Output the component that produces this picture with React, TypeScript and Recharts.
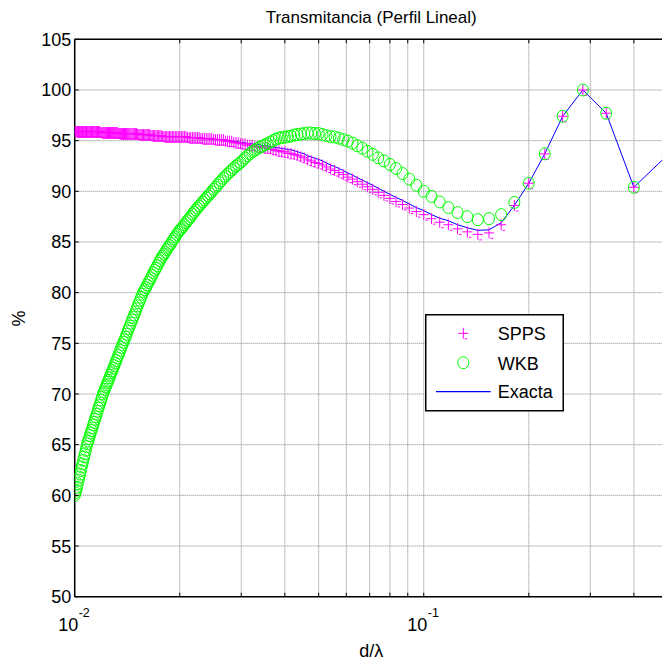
import React from 'react';
import { ComposedChart, Line, XAxis, YAxis, CartesianGrid, ReferenceLine, Legend } from 'recharts';

// λ/d of every sample (d/λ = 1 / value)
const LAMBDA_OVER_D = [
  100, 99.5, 99, 98.5, 98, 97.5, 97, 96.5, 96, 95.5,
  95, 94.5, 94, 93.5, 93, 92.5, 92, 91.5, 91, 90.5,
  90, 89.5, 89, 88.5, 88, 87.5, 87, 86.5, 86, 85.5,
  85, 84.5, 84, 83.5, 83, 82.5, 82, 81.5, 81, 80.5,
  80, 79.5, 79, 78.5, 78, 77.5, 77, 76.5, 76, 75.5,
  75, 74.5, 74, 73.5, 73, 72.5, 72, 71.5, 71, 70.5,
  70, 69.5, 69, 68.5, 68, 67.5, 67, 66.5, 66, 65.5,
  65, 64.5, 64, 63.5, 63, 62.5, 62, 61.5, 61, 60.5,
  60, 59.5, 59, 58.5, 58, 57.5, 57, 56.5, 56, 55.5,
  55, 54.5, 54, 53.5, 53, 52.5, 52, 51.5, 51, 50.5,
  50, 49.5, 49, 48.5, 48, 47.5, 47, 46.5, 46, 45.5,
  45, 44.5, 44, 43.5, 43, 42.5, 42, 41.5, 41, 40.5,
  40, 39.5, 39, 38.5, 38, 37.5, 37, 36.5, 36, 35.5,
  35, 34.5, 34, 33.5, 33, 32.5, 32, 31.5, 31, 30.5,
  30, 29.5, 29, 28.5, 28, 27.5, 27, 26.5, 26, 25.5,
  25, 24.5, 24, 23.5, 23, 22.5, 22,
  21.5, 21, 20.5, 20, 19.5, 19, 18.5, 18, 17.5, 17,
  16.5, 16, 15.5, 15, 14.5, 14, 13.5, 13, 12.5, 12,
  11.5, 11, 10.5, 10, 9.5, 9, 8.5, 8, 7.5, 7,
  6.5, 6, 5.5,
  5, 4.5, 4, 3.5, 3, 2.5, 2,
];

const EXACTA = [
  95.9, 95.9, 95.9, 95.9, 95.9, 95.9, 95.9, 95.9, 95.9, 95.9,
  95.9, 95.9, 95.9, 95.9, 95.9, 95.9, 95.9, 95.9, 95.9, 95.9,
  95.9, 95.9, 95.9, 95.9, 95.9, 95.9, 95.9, 95.9, 95.9, 95.9,
  95.9, 95.8, 95.8, 95.8, 95.8, 95.8, 95.8, 95.8, 95.8, 95.8,
  95.8, 95.8, 95.8, 95.8, 95.8, 95.8, 95.8, 95.8, 95.8, 95.8,
  95.7, 95.7, 95.7, 95.7, 95.7, 95.7, 95.7, 95.7, 95.7, 95.7,
  95.7, 95.7, 95.7, 95.7, 95.7, 95.7, 95.7, 95.7, 95.6, 95.6,
  95.6, 95.6, 95.6, 95.6, 95.6, 95.6, 95.6, 95.6, 95.6, 95.5,
  95.5, 95.5, 95.5, 95.5, 95.5, 95.5, 95.5, 95.5, 95.4, 95.4,
  95.4, 95.4, 95.4, 95.4, 95.4, 95.4, 95.4, 95.4, 95.4, 95.4,
  95.4, 95.4, 95.4, 95.4, 95.4, 95.3, 95.3, 95.3, 95.3, 95.3,
  95.3, 95.3, 95.3, 95.2, 95.2, 95.2, 95.2, 95.2, 95.2, 95.2,
  95.1, 95.1, 95.1, 95.1, 95.1, 95.1, 95.0, 95.0, 95.0, 95.0,
  94.9, 94.9, 94.9, 94.8, 94.8, 94.8, 94.7, 94.7, 94.7, 94.6,
  94.6, 94.6, 94.5, 94.5, 94.5, 94.4, 94.4, 94.3, 94.3, 94.2,
  94.2, 94.1, 94.1, 94.0, 93.9, 93.8, 93.7,
  93.5, 93.4, 93.25, 93.15, 93.0, 92.8, 92.6, 92.45, 92.25, 92.05,
  91.8, 91.6, 91.35, 91.1, 90.85, 90.6, 90.3, 90.0, 89.7, 89.4,
  89.1, 88.75, 88.4, 88.1, 87.7, 87.35, 87.1, 86.7, 86.4, 86.15,
  86.2, 86.9, 88.6,
  90.8, 93.7, 97.4, 100.0, 97.7, 90.4, 93.6,
];

const SPPS = [
  95.9, 95.9, 95.9, 95.9, 95.9, 95.9, 95.9, 95.9, 95.9, 95.9,
  95.9, 95.9, 95.9, 95.9, 95.9, 95.9, 95.9, 95.9, 95.9, 95.9,
  95.9, 95.9, 95.9, 95.9, 95.9, 95.9, 95.9, 95.9, 95.9, 95.9,
  95.9, 95.8, 95.8, 95.8, 95.8, 95.8, 95.8, 95.8, 95.8, 95.8,
  95.8, 95.8, 95.8, 95.8, 95.8, 95.8, 95.8, 95.8, 95.8, 95.8,
  95.7, 95.7, 95.7, 95.7, 95.7, 95.7, 95.7, 95.7, 95.7, 95.7,
  95.7, 95.7, 95.7, 95.7, 95.7, 95.7, 95.7, 95.7, 95.6, 95.6,
  95.6, 95.6, 95.6, 95.6, 95.6, 95.6, 95.6, 95.6, 95.6, 95.5,
  95.5, 95.5, 95.5, 95.5, 95.5, 95.5, 95.5, 95.5, 95.4, 95.4,
  95.4, 95.4, 95.4, 95.4, 95.4, 95.4, 95.4, 95.4, 95.4, 95.4,
  95.4, 95.4, 95.4, 95.4, 95.4, 95.3, 95.3, 95.3, 95.3, 95.3,
  95.3, 95.3, 95.3, 95.2, 95.2, 95.2, 95.2, 95.2, 95.2, 95.2,
  95.1, 95.1, 95.1, 95.1, 95.1, 95.1, 94.95, 94.95, 94.95, 94.95,
  94.8, 94.8, 94.8, 94.7, 94.7, 94.7, 94.55, 94.55, 94.55, 94.4,
  94.4, 94.4, 94.3, 94.3, 94.3, 94.15, 94.15, 94.0, 94.0, 93.9,
  93.9, 93.75, 93.75, 93.65, 93.55, 93.4, 93.3,
  93.1, 93.0, 92.85, 92.75, 92.6, 92.4, 92.2, 92.05, 91.85, 91.65,
  91.4, 91.2, 90.95, 90.7, 90.45, 90.2, 89.9, 89.6, 89.3, 89.0,
  88.7, 88.35, 88.0, 87.7, 87.3, 86.95, 86.7, 86.3, 86.0, 85.75,
  85.9, 86.7, 88.6,
  90.8, 93.7, 97.4, 100.0, 97.7, 90.4, 93.6,
];

const WKB = [
  60.0, 60.25, 60.5, 60.8, 61.15, 61.5, 61.8, 62.1, 62.45, 62.8,
  63.1, 63.45, 63.8, 64.1, 64.45, 64.8, 65.1, 65.35, 65.6, 65.9,
  66.15, 66.4, 66.65, 66.95, 67.2, 67.5, 67.75, 68.0, 68.3, 68.6,
  68.85, 69.1, 69.4, 69.7, 70.0, 70.2, 70.45, 70.7, 70.9, 71.15,
  71.35, 71.6, 71.85, 72.1, 72.3, 72.55, 72.8, 73.05, 73.3, 73.55,
  73.8, 74.05, 74.3, 74.6, 74.85, 75.1, 75.35, 75.6, 75.9, 76.2,
  76.45, 76.7, 77.0, 77.3, 77.55, 77.8, 78.1, 78.4, 78.7, 79.0,
  79.25, 79.55, 79.85, 80.1, 80.3, 80.5, 80.75, 81.0, 81.2, 81.45,
  81.7, 81.95, 82.2, 82.4, 82.65, 82.9, 83.15, 83.4, 83.6, 83.8,
  84.0, 84.25, 84.45, 84.65, 84.85, 85.1, 85.3, 85.5, 85.75, 85.95,
  86.15, 86.3, 86.5, 86.7, 86.9, 87.1, 87.3, 87.5, 87.75, 87.95,
  88.15, 88.35, 88.55, 88.75, 88.95, 89.15, 89.35, 89.55, 89.75, 89.95,
  90.2, 90.4, 90.6, 90.85, 91.05, 91.3, 91.5, 91.7, 91.9, 92.1,
  92.3, 92.5, 92.65, 92.85, 93.05, 93.3, 93.5, 93.7, 93.9, 94.05,
  94.2, 94.35, 94.45, 94.6, 94.7, 94.85, 95.0, 95.15, 95.25, 95.3,
  95.35, 95.4, 95.45, 95.55, 95.6, 95.65, 95.7,
  95.75, 95.75, 95.7, 95.7, 95.6, 95.5, 95.4, 95.35, 95.25, 95.1,
  94.95, 94.75, 94.5, 94.25, 93.95, 93.65, 93.3, 93.0, 92.65, 92.25,
  91.75, 91.2, 90.6, 90.0, 89.5, 88.95, 88.4, 87.9, 87.5, 87.2,
  87.3, 87.7, 88.9,
  90.8, 93.7, 97.4, 100.0, 97.7, 90.4, 93.6,
];

const X_GRID = [0.01, 0.02, 0.03, 0.04, 0.05, 0.06, 0.07, 0.08, 0.09, 0.1, 0.2, 0.3, 0.4, 0.5];
const X_DECADES = [0.01, 0.1];
const X_EXPONENTS = ['-2', '-1'];
const Y_TICKS = [50, 55, 60, 65, 70, 75, 80, 85, 90, 95, 100, 105];

const FONT = '"Liberation Sans", Arial, Helvetica, sans-serif';
const CHART_W = 680;
const CHART_H = 664;
const PLOT_LEFT = 74.7;
const PLOT_TOP = 39.3;
const PLOT_BOTTOM = 596.7;
const PLOT_RIGHT = 667.7;
const Y_AXIS_W = 60;
const X_AXIS_H = 60;

const PINK = '#ff00ff';
const GREEN = '#00ff00';
const BLUE = '#0000ff';

function PlusMark({ cx, cy }: { cx?: number; cy?: number }) {
  if (cx == null || cy == null) return null;
  return (
    <g stroke={PINK} strokeWidth={1} fill="none">
      <line x1={cx - 5} x2={cx + 5} y1={cy} y2={cy} />
      <line x1={cx} x2={cx} y1={cy - 5.5} y2={cy + 5.5} />
      <line x1={cx + 1.5} x2={cx + 4} y1={cy + 5.5} y2={cy + 5.5} />
    </g>
  );
}

function CircleMark({ cx, cy }: { cx?: number; cy?: number }) {
  if (cx == null || cy == null) return null;
  return <ellipse cx={cx} cy={cy} rx={5.5} ry={6} fill="none" stroke={GREEN} strokeWidth={1} />;
}

function XTick({ x, payload }: any) {
  const idx = X_DECADES.indexOf(payload.value);
  return (
    <g>
      <line x1={x} x2={x} y1={PLOT_BOTTOM} y2={PLOT_BOTTOM - 4} stroke="#000" />
      <line x1={x} x2={x} y1={PLOT_TOP} y2={PLOT_TOP + 4} stroke="#000" />
      {idx >= 0 && (
        <g fontFamily={FONT} fill="#000">
          <text x={x + 3.5} y={631} textAnchor="end" fontSize={18}>10</text>
          <text x={x + 4} y={617} textAnchor="start" fontSize={12.5}>{X_EXPONENTS[idx]}</text>
        </g>
      )}
    </g>
  );
}

function YTick({ y, payload }: any) {
  return (
    <g>
      <line x1={PLOT_LEFT} x2={PLOT_LEFT + 4} y1={y} y2={y} stroke="#000" />
      <text x={PLOT_LEFT - 3.5} y={y + 6.5} textAnchor="end" fontSize={18} fontFamily={FONT} fill="#000">
        {payload.value}
      </text>
    </g>
  );
}

function LegendBox() {
  return (
    <svg width={139} height={98} style={{ display: 'block' }}>
      <rect x={0.75} y={0.75} width={137.5} height={96} fill="#fff" stroke="#000" strokeWidth={1.5} />
      <PlusMark cx={38.3} cy={19.3} />
      <ellipse cx={38.3} cy={48.7} rx={5.5} ry={6} fill="none" stroke={GREEN} strokeWidth={1} />
      <line x1={11} x2={65.7} y1={77.7} y2={77.7} stroke={BLUE} strokeWidth={1.2} />
      <g fontFamily={FONT} fontSize={18} fill="#000">
        <text x={72.7} y={25.6}>SPPS</text>
        <text x={72.7} y={55.6}>WKB</text>
        <text x={72.7} y={84}>Exacta</text>
      </g>
    </svg>
  );
}

export default function App() {
  const data = LAMBDA_OVER_D.map((n, i) => ({ x: 1 / n, spps: SPPS[i], wkb: WKB[i], exacta: EXACTA[i] }));
  const center = (PLOT_LEFT + PLOT_RIGHT) / 2;

  return (
    <div
      style={{
        position: 'fixed',
        left: 0,
        top: 0,
        width: 662,
        height: 664,
        overflow: 'hidden',
        background: '#fff',
        fontFamily: FONT,
      }}
    >
      <ComposedChart
        width={CHART_W}
        height={CHART_H}
        data={data}
        margin={{
          top: PLOT_TOP,
          left: PLOT_LEFT - Y_AXIS_W,
          right: CHART_W - PLOT_RIGHT,
          bottom: CHART_H - PLOT_BOTTOM - X_AXIS_H,
        }}
      >
        <CartesianGrid stroke="#808080" strokeDasharray="1 1" />
        <XAxis
          dataKey="x"
          type="number"
          scale="log"
          domain={[0.01, 0.5]}
          ticks={X_GRID}
          interval={0}
          allowDataOverflow
          height={X_AXIS_H}
          tickLine={false}
          axisLine={{ stroke: '#000', strokeWidth: 1.5 }}
          tick={(p: any) => <XTick {...p} />}
        />
        <YAxis
          type="number"
          domain={[50, 105]}
          ticks={Y_TICKS}
          interval={0}
          width={Y_AXIS_W}
          tickLine={false}
          axisLine={{ stroke: '#000', strokeWidth: 1.5 }}
          tick={(p: any) => <YTick {...p} />}
        />
        <ReferenceLine y={105} stroke="#000" strokeWidth={1.5} />
        <Line
          dataKey="spps"
          name="SPPS"
          stroke="none"
          isAnimationActive={false}
          dot={(p: any) => <PlusMark key={`s${p.index}`} cx={p.cx} cy={p.cy} />}
          activeDot={false}
        />
        <Line
          dataKey="wkb"
          name="WKB"
          stroke="none"
          isAnimationActive={false}
          dot={(p: any) => <CircleMark key={`w${p.index}`} cx={p.cx} cy={p.cy} />}
          activeDot={false}
        />
        <Line
          dataKey="exacta"
          name="Exacta"
          type="linear"
          stroke={BLUE}
          strokeWidth={1}
          dot={false}
          activeDot={false}
          isAnimationActive={false}
        />
        <Legend
          layout="vertical"
          align="center"
          verticalAlign="middle"
          wrapperStyle={{ left: 425, top: 314, width: 139, height: 98 }}
          content={() => <LegendBox />}
        />
      </ComposedChart>
      <div
        style={{
          position: 'absolute',
          left: center - 200,
          width: 400,
          top: 8,
          textAlign: 'center',
          fontSize: 17,
          lineHeight: '20px',
          color: '#000',
        }}
      >
        Transmitancia (Perfil Lineal)
      </div>
      <div
        style={{
          position: 'absolute',
          left: center - 50,
          width: 100,
          top: 641,
          textAlign: 'center',
          fontSize: 18,
          lineHeight: '21px',
          color: '#000',
        }}
      >
        d/λ
      </div>
      <div
        style={{
          position: 'absolute',
          left: 19 - 20,
          top: 318 - 10.5,
          width: 40,
          textAlign: 'center',
          fontSize: 18,
          lineHeight: '21px',
          color: '#000',
          transform: 'rotate(-90deg)',
        }}
      >
        %
      </div>
    </div>
  );
}
